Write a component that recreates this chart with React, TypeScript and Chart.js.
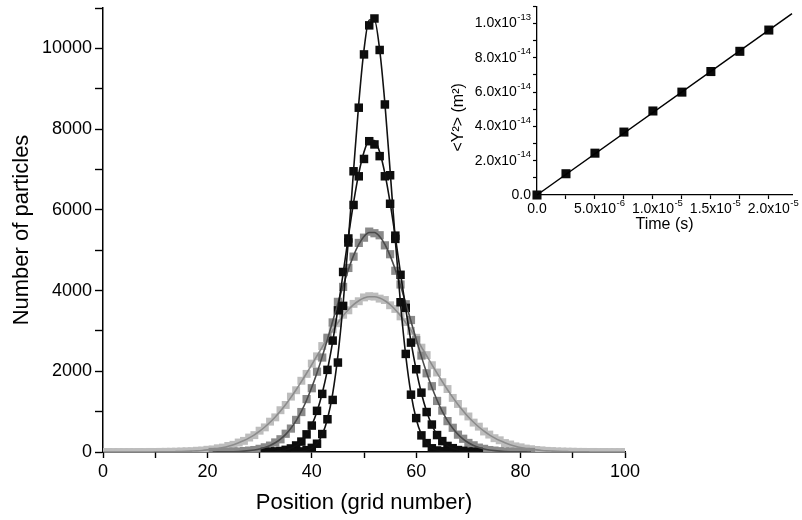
import { useEffect, useRef } from 'react';
import { Chart, registerables } from 'chart.js';

Chart.register(...registerables);

const FONT = "'Liberation Sans', Arial, Helvetica, sans-serif";

// ---------- main chart data (grid position -> number of particles) ----------
const s1Start = 36;
const s1Markers = [1, 5, 14, 45, 102, 205, 445, 811, 1290, 2216, 3620, 5190, 6955, 8530, 9850, 10570, 10740, 9960, 8610, 6856, 5280, 3710, 2430, 1420, 840, 412, 220, 92, 38, 18, 5, 2];
const s1Fit = [2, 6, 16, 41, 96, 211, 430, 818, 1448, 2389, 3667, 5240, 6973, 8640, 9966, 10704, 10704, 9966, 8640, 6973, 5240, 3667, 2389, 1448, 818, 430, 211, 96, 41, 16, 6, 2];

const s2Start = 31;
const s2Markers = [2, 6, 15, 25, 53, 88, 162, 258, 437, 655, 1020, 1440, 2035, 2760, 3510, 4460, 5290, 6120, 6830, 7260, 7700, 7620, 7330, 6831, 6150, 5360, 4390, 3570, 2710, 2050, 1470, 990, 680, 420, 270, 150, 95, 48, 28, 12, 6, 2];
const s2Fit = [3, 7, 14, 27, 50, 91, 158, 265, 429, 669, 1006, 1457, 2034, 2735, 3544, 4426, 5327, 6177, 6903, 7434, 7714, 7714, 7434, 6903, 6177, 5327, 4426, 3544, 2735, 2034, 1457, 1006, 669, 429, 265, 158, 91, 50, 27, 14, 7, 3];

const s3Start = 21;
const s3Markers = [1, 2, 4, 6, 9, 12, 22, 35, 48, 78, 115, 158, 236, 315, 452, 580, 795, 990, 1310, 1580, 1990, 2340, 2830, 3210, 3720, 4090, 4560, 4840, 5180, 5310, 5460, 5420, 5370, 5120, 4900, 4490, 4150, 3660, 3270, 2770, 2390, 1950, 1630, 1265, 1025, 765, 600, 430, 328, 224, 165, 108, 78, 48, 34, 20, 14, 7, 5, 3, 2, 1];
const s3Fit = [1, 2, 3, 5, 8, 13, 21, 33, 50, 75, 111, 161, 229, 320, 438, 589, 778, 1008, 1282, 1602, 1964, 2363, 2792, 3238, 3685, 4119, 4518, 4866, 5144, 5338, 5437, 5437, 5338, 5144, 4866, 4518, 4119, 3685, 3238, 2792, 2363, 1964, 1602, 1282, 1008, 778, 589, 438, 320, 229, 161, 111, 75, 50, 33, 21, 13, 8, 5, 3, 2, 1];

const s4Start = 0;
const s4Markers = [0, 0, 0, 0, 0, 0, 0, 1, 0, 2, 1, 3, 5, 6, 8, 13, 17, 21, 31, 37, 55, 64, 92, 110, 150, 178, 235, 276, 358, 418, 528, 610, 752, 858, 1035, 1165, 1372, 1530, 1765, 1935, 2190, 2370, 2625, 2795, 3040, 3190, 3400, 3510, 3670, 3735, 3830, 3860, 3850, 3800, 3765, 3635, 3545, 3360, 3220, 3000, 2830, 2585, 2400, 2150, 1970, 1730, 1560, 1340, 1190, 1005, 880, 728, 628, 508, 432, 342, 290, 222, 186, 140, 116, 85, 69, 50, 40, 28, 23, 15, 12, 8, 7, 3, 3, 1, 2, 0, 1, 0, 0, 0, 0];
const s4Fit = [0, 0, 0, 0, 0, 0, 0, 0, 1, 1, 2, 3, 4, 6, 9, 12, 16, 22, 29, 39, 52, 67, 88, 113, 144, 182, 228, 283, 349, 426, 516, 619, 737, 869, 1017, 1178, 1354, 1543, 1743, 1952, 2166, 2384, 2600, 2812, 3015, 3204, 3376, 3525, 3650, 3747, 3813, 3846, 3846, 3813, 3747, 3650, 3525, 3376, 3204, 3015, 2812, 2600, 2384, 2166, 1952, 1743, 1543, 1354, 1178, 1017, 869, 737, 619, 516, 426, 349, 283, 228, 182, 144, 113, 88, 67, 52, 39, 29, 22, 16, 12, 9, 6, 4, 3, 2, 1, 1, 0, 0, 0, 0, 0];

// ---------- inset data ----------
const insetTime = [0, 2.5, 5, 7.5, 10, 12.5, 15, 17.5, 20]; // x 1e-6 s
const insetMsd = [0, 1.24, 2.44, 3.67, 4.9, 6.0, 7.2, 8.38, 9.62]; // x 1e-14 m^2
const insetFitTime = [0, 22];
const insetFitMsd = [0, 10.58];

// inset tick labels: value, mantissa text, exponent text
const insetXTickValues = [0, 5, 10, 15, 20];
const insetXTickBase = ['0.0', '5.0x10', '1.0x10', '1.5x10', '2.0x10'];
const insetXTickExp = ['', '-6', '-5', '-5', '-5'];
const insetYTickValues = [0, 2, 4, 6, 8, 10];
const insetYTickBase = ['0.0', '2.0x10', '4.0x10', '6.0x10', '8.0x10', '1.0x10'];
const insetYTickExp = ['', '-14', '-14', '-14', '-14', '-13'];

const pts = (start: number, vals: number[]) => vals.map((v, i) => ({ x: start + i, y: v }));
const pairs = (xs: number[], ys: number[]) => xs.map((x, i) => ({ x, y: ys[i] }));

const fitDs = (start: number, vals: number[], color: string) => ({
  data: pts(start, vals),
  showLine: true,
  borderColor: color,
  borderWidth: 1.6,
  pointRadius: 0,
  cubicInterpolationMode: 'monotone' as const,
  clip: 0,
});
const markDs = (start: number, vals: number[], color: string, r: number) => ({
  data: pts(start, vals),
  showLine: false,
  pointStyle: 'rect' as const,
  pointRadius: r,
  pointBackgroundColor: color,
  pointBorderWidth: 0,
  backgroundColor: color,
  borderColor: color,
  clip: 0,
});

const axisCommon = {
  border: { display: true, color: '#000', width: 1.5 },
};

const BASE_SIZE = 14;
const EXP_SIZE = 9.5;

function drawSci(ctx: CanvasRenderingContext2D, base: string, exp: string, x: number, y: number, mode: 'center' | 'right') {
  ctx.font = `${BASE_SIZE}px ${FONT}`;
  const bw = ctx.measureText(base).width;
  ctx.font = `${EXP_SIZE}px ${FONT}`;
  const ew = exp ? ctx.measureText(exp).width + 0.5 : 0;
  const x0 = mode === 'right' ? x - bw - ew : x - bw / 2;
  ctx.textAlign = 'left';
  ctx.textBaseline = 'middle';
  ctx.font = `${BASE_SIZE}px ${FONT}`;
  ctx.fillText(base, x0, y);
  if (exp) {
    ctx.font = `${EXP_SIZE}px ${FONT}`;
    ctx.fillText(exp, x0 + bw + 0.5, y - 6);
  }
}

export default function App() {
  const mainRef = useRef<HTMLCanvasElement>(null);
  const insetRef = useRef<HTMLCanvasElement>(null);

  useEffect(() => {
    const main = new Chart(mainRef.current!, {
      type: 'scatter',
      data: {
        datasets: [
          fitDs(s1Start, s1Fit, '#111'),
          fitDs(s2Start, s2Fit, '#111'),
          fitDs(s3Start, s3Fit, '#4a4a4a'),
          fitDs(s4Start, s4Fit, '#8c8c8c'),
          markDs(s1Start, s1Markers, '#0d0d0d', 6),
          markDs(s2Start, s2Markers, '#0d0d0d', 6),
          markDs(s3Start, s3Markers, '#8a8a8a', 5.8),
          markDs(s4Start, s4Markers, '#bdbdbd', 5.6),
        ] as any,
      },
      options: {
        animation: false,
        responsive: false,
        devicePixelRatio: 1,
        layout: { padding: { left: 0, right: 177, top: 8, bottom: 0 } },
        plugins: { legend: { display: false }, tooltip: { enabled: false } },
        events: [],
        scales: {
          x: {
            type: 'linear',
            min: 0,
            max: 100,
            ...axisCommon,
            grid: { display: true, drawOnChartArea: false, drawTicks: true, tickLength: 6, tickColor: '#000', tickWidth: 1.4 },
            ticks: {
              stepSize: 10,
              autoSkip: false,
              includeBounds: false,
              maxRotation: 0,
              padding: 3,
              color: '#000',
              font: { family: FONT, size: 18 },
              callback: (v: any) => (Number(v) % 20 === 0 ? String(v) : ''),
            },
            title: { display: true, text: 'Position (grid number)', color: '#000', font: { family: FONT, size: 22 }, padding: { top: 0, bottom: 4 } },
            afterFit: (s: any) => {
              s.height = 68;
              s.paddingLeft = 0;
              s.paddingRight = 0;
            },
          },
          y: {
            type: 'linear',
            min: 0,
            max: 11000,
            ...axisCommon,
            grid: { display: true, drawOnChartArea: false, drawTicks: true, tickLength: 8, tickColor: '#000', tickWidth: 1.4 },
            ticks: {
              stepSize: 1000,
              autoSkip: false,
              includeBounds: false,
              padding: 3,
              color: '#000',
              font: { family: FONT, size: 18 },
              callback: (v: any) => (Number(v) % 2000 === 0 ? String(v) : ''),
            },
            title: { display: true, text: 'Number of particles', color: '#000', font: { family: FONT, size: 22 }, padding: { top: 9, bottom: 0 } },
            afterFit: (s: any) => {
              s.width = 103;
              s.paddingTop = 0;
              s.paddingBottom = 0;
            },
          },
        },
      } as any,
    });

    const insetText = {
      id: 'insetText',
      afterDraw(chart: any) {
        const { ctx, chartArea, scales } = chart;
        ctx.save();
        ctx.fillStyle = '#000';
        // x tick labels
        insetXTickValues.forEach((v, i) => {
          const px = scales.x.getPixelForValue(v);
          drawSci(ctx, insetXTickBase[i], insetXTickExp[i], px, chartArea.bottom + 14.5, 'center');
        });
        // y tick labels
        insetYTickValues.forEach((v, i) => {
          const py = scales.y.getPixelForValue(v);
          drawSci(ctx, insetYTickBase[i], insetYTickExp[i], chartArea.left - 6, py, 'right');
        });
        // y title
        ctx.translate(chartArea.left - 78, chartArea.top + 111);
        ctx.rotate(-Math.PI / 2);
        ctx.font = `16px ${FONT}`;
        ctx.textAlign = 'center';
        ctx.textBaseline = 'middle';
        ctx.fillText('<Y\u00B2> (m\u00B2)', 0, 0);
        ctx.restore();
      },
    };

    const inset = new Chart(insetRef.current!, {
      type: 'scatter',
      data: {
        datasets: [
          {
            data: pairs(insetFitTime, insetFitMsd),
            showLine: true,
            borderColor: '#000',
            borderWidth: 1.5,
            pointRadius: 0,
            clip: false,
          },
          {
            data: pairs(insetTime, insetMsd),
            showLine: false,
            pointStyle: 'rect',
            pointRadius: 6.4,
            pointBackgroundColor: '#0a0a0a',
            pointBorderWidth: 0,
            clip: false,
          },
        ] as any,
      },
      options: {
        animation: false,
        responsive: false,
        devicePixelRatio: 1,
        events: [],
        layout: { padding: { left: 440, right: 10, top: 3, bottom: 280 } },
        plugins: { legend: { display: false }, tooltip: { enabled: false } },
        scales: {
          x: {
            type: 'linear',
            min: 0,
            max: 22,
            border: { display: true, color: '#000', width: 1.3 },
            grid: { display: true, drawOnChartArea: false, drawTicks: true, tickLength: 4, tickColor: '#000', tickWidth: 1.2 },
            ticks: { stepSize: 2.5, autoSkip: false, includeBounds: false, display: false },
            title: { display: true, text: 'Time (s)', color: '#000', font: { family: FONT, size: 16 }, padding: { top: 0, bottom: 5.4 } },
            afterFit: (s: any) => {
              s.height = 45;
              s.paddingLeft = 0;
              s.paddingRight = 0;
            },
          },
          y: {
            type: 'linear',
            min: 0,
            max: 11,
            border: { display: true, color: '#000', width: 1.3 },
            grid: { display: true, drawOnChartArea: false, drawTicks: true, tickLength: 4, tickColor: '#000', tickWidth: 1.2 },
            ticks: { stepSize: 1, autoSkip: false, includeBounds: false, display: false },
            afterFit: (s: any) => {
              s.width = 97;
              s.paddingTop = 0;
              s.paddingBottom = 0;
            },
          },
        },
      } as any,
      plugins: [insetText],
    });

    return () => {
      main.destroy();
      inset.destroy();
    };
  }, []);

  return (
    <div style={{ position: 'fixed', left: 0, top: 0, width: 802, height: 520, background: '#fff' }}>
      <canvas ref={mainRef} width={802} height={520} style={{ position: 'absolute', left: 0, top: 0 }} />
      <canvas ref={insetRef} width={802} height={520} style={{ position: 'absolute', left: 0, top: 0 }} />
    </div>
  );
}
